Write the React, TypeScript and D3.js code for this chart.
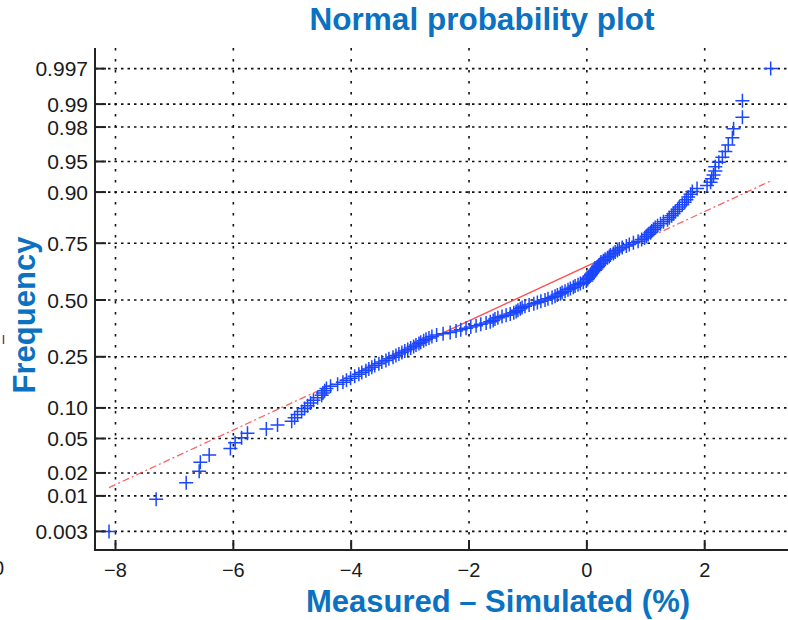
import React from "react";
import * as d3 from "d3";

// Measured – Simulated (%) sorted sample values (n = 167)
const measuredMinusSimulated = [
  -8.11, -7.31, -6.8, -6.58, -6.56, -6.41, -6.05, -5.97, -5.86, -5.76,
  -5.44, -5.25, -5.01, -4.96, -4.91, -4.84, -4.79, -4.74, -4.69, -4.64,
  -4.57, -4.5, -4.48, -4.45, -4.42, -4.35, -4.23, -4.14, -4.08, -4.01,
  -3.94, -3.87, -3.82, -3.75, -3.7, -3.65, -3.6, -3.53, -3.48, -3.41,
  -3.36, -3.29, -3.24, -3.19, -3.14, -3.09, -3.04, -2.99, -2.94, -2.9,
  -2.85, -2.82, -2.77, -2.73, -2.68, -2.63, -2.55, -2.44, -2.32, -2.22,
  -2.14, -2.05, -1.97, -1.88, -1.8, -1.71, -1.64, -1.59, -1.56, -1.51,
  -1.44, -1.37, -1.3, -1.24, -1.2, -1.17, -1.13, -1.1, -1.05, -0.98,
  -0.9, -0.84, -0.78, -0.71, -0.66, -0.59, -0.54, -0.5, -0.45, -0.42,
  -0.37, -0.32, -0.28, -0.23, -0.2, -0.15, -0.11, -0.06, -0.01, 0.01,
  0.02, 0.04, 0.06, 0.07, 0.09, 0.11, 0.14, 0.16, 0.18, 0.19,
  0.21, 0.23, 0.24, 0.28, 0.31, 0.35, 0.38, 0.4, 0.45, 0.48,
  0.52, 0.55, 0.6, 0.67, 0.72, 0.79, 0.87, 0.93, 0.98, 1.01,
  1.04, 1.08, 1.1, 1.13, 1.16, 1.2, 1.25, 1.3, 1.37, 1.4,
  1.44, 1.47, 1.5, 1.54, 1.57, 1.62, 1.66, 1.69, 1.72, 1.76,
  1.79, 1.87, 2.04, 2.1, 2.12, 2.15, 2.18, 2.18, 2.24, 2.3,
  2.35, 2.4, 2.47, 2.49, 2.64, 2.64, 3.12,
];

// Reference line: x at the 25th and 75th percentiles
const refQuartileX = [-3.32, 0.84];

const xTicks = [-8, -6, -4, -2, 0, 2];
const xTickLabels = ["\u22128", "\u22126", "\u22124", "\u22122", "0", "2"];
const yTicks = [0.003, 0.01, 0.02, 0.05, 0.1, 0.25, 0.5, 0.75, 0.9, 0.95, 0.98, 0.99, 0.997];
const yTickLabels = ["0.003", "0.01", "0.02", "0.05", "0.10", "0.25", "0.50", "0.75", "0.90", "0.95", "0.98", "0.99", "0.997"];

const titleText = "Normal probability plot";
const xLabelText = "Measured \u2013 Simulated (%)";
const yLabelText = "Frequency";

// inverse standard normal CDF (Acklam)
function probit(p: number): number {
  const a = [-39.69683028665376, 220.9460984245205, -275.9285104469687, 138.357751867269, -30.66479806614716, 2.506628277459239];
  const b = [-54.47609879822406, 161.5858368580409, -155.6989798598866, 66.80131188771972, -13.28068155288572];
  const c = [-0.007784894002430293, -0.3223964580411365, -2.400758277161838, -2.549732539343734, 4.374664141464968, 2.938163982698783];
  const d = [0.007784695709041462, 0.3224671290700398, 2.445134137142996, 3.754408661907416];
  const pl = 0.02425;
  if (p < pl) {
    const q = Math.sqrt(-2 * Math.log(p));
    return (((((c[0] * q + c[1]) * q + c[2]) * q + c[3]) * q + c[4]) * q + c[5]) / ((((d[0] * q + d[1]) * q + d[2]) * q + d[3]) * q + 1);
  }
  if (p > 1 - pl) {
    const q = Math.sqrt(-2 * Math.log(1 - p));
    return -(((((c[0] * q + c[1]) * q + c[2]) * q + c[3]) * q + c[4]) * q + c[5]) / ((((d[0] * q + d[1]) * q + d[2]) * q + d[3]) * q + 1);
  }
  const q = p - 0.5;
  const r = q * q;
  return ((((((a[0] * r + a[1]) * r + a[2]) * r + a[3]) * r + a[4]) * r + a[5]) * q) / (((((b[0] * r + b[1]) * r + b[2]) * r + b[3]) * r + b[4]) * r + 1);
}

const W = 788;
const H = 620;
const plotLeft = 95;
const plotTop = 48;
const plotBottom = 550;
const plotRight = 788;

export default function App() {
  const x = d3.scaleLinear().domain([-8, 2]).range([115.5, 704.7]);
  const y = d3.scaleLinear().domain([-2.748, 2.748]).range([531.4, 68.6]);
  const yp = (p: number) => y(probit(p));

  const n = measuredMinusSimulated.length;
  const pts = measuredMinusSimulated.map((v, i) => ({ v, p: (i + 0.5) / n }));

  const z1 = probit(0.25);
  const z3 = probit(0.75);
  const slope = (z3 - z1) / (refQuartileX[1] - refQuartileX[0]);
  const zAt = (xv: number) => z1 + (xv - refQuartileX[0]) * slope;
  const xmin = d3.min(measuredMinusSimulated) as number;
  const xmax = d3.max(measuredMinusSimulated) as number;
  const line = d3
    .line<number>()
    .x((d) => x(d))
    .y((d) => y(zAt(d)));

  const blue = "#1a46ff";
  const red = "#ff3b3b";
  const gridColor = "#111";
  const titleBlue = "#0a72c0";
  const font = "'Liberation Sans', Arial, sans-serif";

  return (
    <svg width={W} height={H} style={{ position: "absolute", left: 0, top: 0, background: "#fff" }} fontFamily={font}>
      <rect x={0} y={0} width={W} height={H} fill="#fff" />
      {/* grid */}
      <g>
        {xTicks.map((t) => (
          <line key={"vx" + t} x1={x(t)} x2={x(t)} y1={plotTop} y2={plotBottom} stroke={gridColor} strokeWidth={1.6} strokeDasharray="2.5,8.5" />
        ))}
        {yTicks.map((t) => (
          <line key={"hy" + t} x1={plotLeft} x2={plotRight} y1={yp(t)} y2={yp(t)} stroke={gridColor} strokeWidth={1.6} strokeDasharray="2.5,4" />
        ))}
      </g>
      {/* reference line */}
      <path d={line([xmin, refQuartileX[0]]) || ""} fill="none" stroke={red} strokeWidth={1.3} strokeDasharray="7,3,2,3" opacity={0.8} />
      <path d={line([refQuartileX[0], refQuartileX[1]]) || ""} fill="none" stroke={red} strokeWidth={1.4} opacity={0.9} />
      <path d={line([refQuartileX[1], xmax]) || ""} fill="none" stroke={red} strokeWidth={1.3} strokeDasharray="7,3,2,3" opacity={0.8} />
      {/* data crosses */}
      <g stroke={blue} strokeWidth={1.5} fill="none">
        {pts.map((d, i) => (
          <path key={i} d={`M${x(d.v) - 7},${yp(d.p)}H${x(d.v) + 7}M${x(d.v)},${yp(d.p) - 7}V${yp(d.p) + 7}`} />
        ))}
      </g>
      {/* axes */}
      <line x1={plotLeft} x2={plotLeft} y1={plotTop} y2={plotBottom + 1} stroke="#222" strokeWidth={2} />
      <line x1={plotLeft} x2={plotRight} y1={plotBottom} y2={plotBottom} stroke="#222" strokeWidth={2} />
      {yTicks.map((t, i) => (
        <g key={"yt" + t}>
          <line x1={plotLeft} x2={plotLeft + 11} y1={yp(t)} y2={yp(t)} stroke="#222" strokeWidth={2} />
          <text x={88} y={yp(t) + 7.5} textAnchor="end" fontSize={21} fill="#1a1a1a">
            {yTickLabels[i]}
          </text>
        </g>
      ))}
      {xTicks.map((t, i) => (
        <g key={"xt" + t}>
          <line x1={x(t)} x2={x(t)} y1={plotBottom} y2={plotBottom - 10} stroke="#222" strokeWidth={2} />
          <text x={x(t)} y={577} textAnchor="middle" fontSize={20} fill="#1a1a1a">
            {xTickLabels[i]}
          </text>
        </g>
      ))}
      {/* titles */}
      <text x={482} y={30} textAnchor="middle" fontSize={31.5} fontWeight="bold" fill={titleBlue}>
        {titleText}
      </text>
      <text x={498} y={612} textAnchor="middle" fontSize={31} fontWeight="bold" fill={titleBlue}>
        {xLabelText}
      </text>
      <text transform="translate(35,315) rotate(-90)" textAnchor="middle" fontSize={31} fontWeight="bold" fill={titleBlue}>
        {yLabelText}
      </text>
      {/* stray marks from the source image */}
      <text x={-7} y={575} fontSize={20} fill="#1a1a1a">0</text>
      <line x1={3.5} x2={3.5} y1={335} y2={344} stroke="#7a4a2a" strokeWidth={1.5} />
    </svg>
  );
}
